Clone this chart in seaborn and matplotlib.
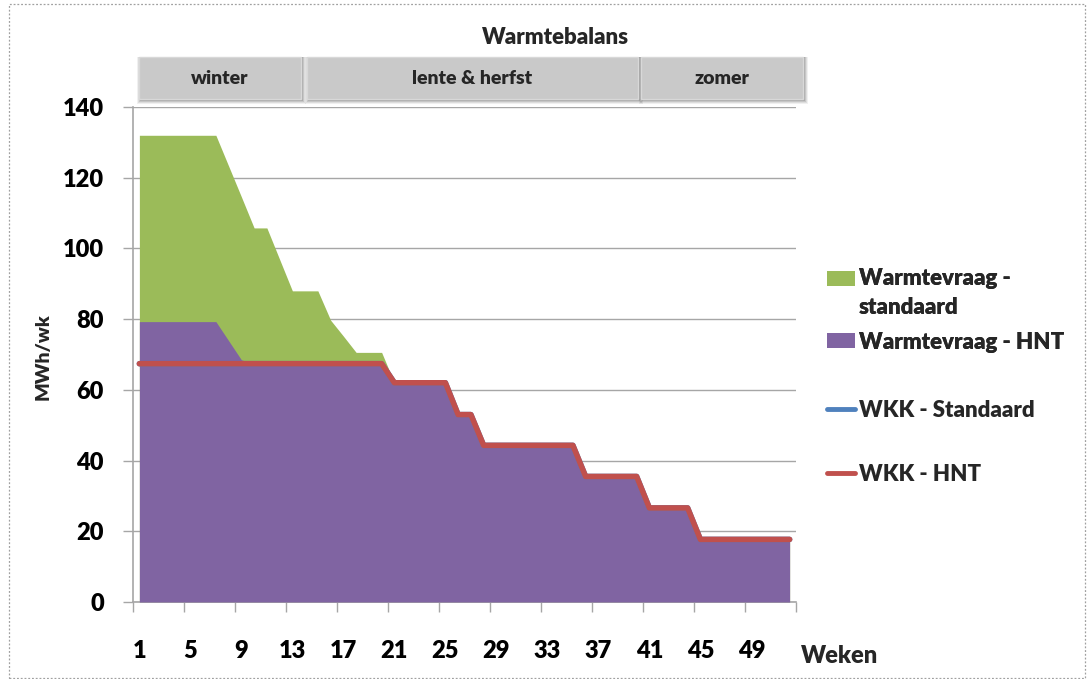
import matplotlib
matplotlib.use("Agg")
import matplotlib.pyplot as plt
import seaborn as sns
import pandas as pd
import numpy as np
from matplotlib.patches import Rectangle, Patch
from matplotlib.lines import Line2D
from matplotlib.legend_handler import HandlerPatch

# ---------------- data ----------------
weeks = list(range(1, 53))

warmtevraag_standaard = [132.0, 132.0, 132.0, 132.0, 132.0, 132.0, 132.0,
                         123.3, 114.6, 105.8, 105.8, 96.9, 88.0, 88.0, 88.0,
                         79.7, 75.2, 70.6, 70.6, 70.6,
                         62.0, 62.0, 62.0, 62.0, 62.0, 53.0, 53.0,
                         44.3, 44.3, 44.3, 44.3, 44.3, 44.3, 44.3, 44.3,
                         35.5, 35.5, 35.5, 35.5, 35.5,
                         26.6, 26.6, 26.6, 26.6,
                         17.7, 17.7, 17.7, 17.7, 17.7, 17.7, 17.7, 17.7]

warmtevraag_hnt = [79.3, 79.3, 79.3, 79.3, 79.3, 79.3, 79.3,
                   73.9, 68.5, 67.4, 67.4, 67.4, 67.4, 67.4, 67.4,
                   67.4, 67.4, 67.4, 67.4, 67.4,
                   62.0, 62.0, 62.0, 62.0, 62.0, 53.0, 53.0,
                   44.3, 44.3, 44.3, 44.3, 44.3, 44.3, 44.3, 44.3,
                   35.5, 35.5, 35.5, 35.5, 35.5,
                   26.6, 26.6, 26.6, 26.6,
                   17.7, 17.7, 17.7, 17.7, 17.7, 17.7, 17.7, 17.7]

wkk_standaard = [67.4, 67.4, 67.4, 67.4, 67.4, 67.4, 67.4,
                 67.4, 67.4, 67.4, 67.4, 67.4, 67.4, 67.4, 67.4,
                 67.4, 67.4, 67.4, 67.4, 67.4,
                 62.0, 62.0, 62.0, 62.0, 62.0, 53.0, 53.0,
                 44.3, 44.3, 44.3, 44.3, 44.3, 44.3, 44.3, 44.3,
                 35.5, 35.5, 35.5, 35.5, 35.5,
                 26.6, 26.6, 26.6, 26.6,
                 17.7, 17.7, 17.7, 17.7, 17.7, 17.7, 17.7, 17.7]

wkk_hnt = [67.4, 67.4, 67.4, 67.4, 67.4, 67.4, 67.4,
           67.4, 67.4, 67.4, 67.4, 67.4, 67.4, 67.4, 67.4,
           67.4, 67.4, 67.4, 67.4, 67.4,
           62.0, 62.0, 62.0, 62.0, 62.0, 53.0, 53.0,
           44.3, 44.3, 44.3, 44.3, 44.3, 44.3, 44.3, 44.3,
           35.5, 35.5, 35.5, 35.5, 35.5,
           26.6, 26.6, 26.6, 26.6,
           17.7, 17.7, 17.7, 17.7, 17.7, 17.7, 17.7, 17.7]

x_tick_labels = ["1", "5", "9", "13", "17", "21", "25", "29", "33", "37", "41", "45", "49"]
y_ticks = [0, 20, 40, 60, 80, 100, 120, 140]

seizoenen = ["winter", "lente & herfst", "zomer"]

series_labels = ["Warmtevraag -\nstandaard", "Warmtevraag - HNT", "WKK - Standaard", "WKK - HNT"]

# ---------------- style ----------------
GREEN = "#9BBB59"
PURPLE = "#8064A2"
BLUE = "#4F81BD"
RED = "#C0504D"
GRID = "#A6A6A6"
WEIGHT = "heavy"

sns.set_theme(style="white")
plt.rcParams["font.family"] = ["Lato", "DejaVu Sans"]
plt.rcParams["font.weight"] = WEIGHT

W, H = 1088, 679
fig = plt.figure(figsize=(W / 100, H / 100), dpi=100)
fig.patch.set_facecolor("white")

def fx(px):
    return px / W

def fy(py):
    return 1 - py / H

ax = fig.add_axes([fx(133), fy(602), fx(796) - fx(133), fy(107) - fy(602)])

df = pd.DataFrame({"week": weeks,
                   "std": warmtevraag_standaard,
                   "hnt": warmtevraag_hnt,
                   "wkk_std": wkk_standaard,
                   "wkk_hnt": wkk_hnt})

ax.fill_between(df["week"], df["std"], color=GREEN, lw=0, zorder=2)
ax.fill_between(df["week"], df["hnt"], color=PURPLE, lw=0, zorder=3)
sns.lineplot(data=df, x="week", y="wkk_std", color=BLUE, lw=4, ax=ax, zorder=4,
             solid_capstyle="round", solid_joinstyle="round")
sns.lineplot(data=df, x="week", y="wkk_hnt", color=RED, lw=4, ax=ax, zorder=5,
             solid_capstyle="round", solid_joinstyle="round")

ax.set_xlim(0.5, 52.5)
ax.set_ylim(0, 140)
ax.set_xlabel("")
ax.set_ylabel("")

ax.set_yticks(y_ticks)
ax.set_yticklabels([str(v) for v in y_ticks], fontsize=17, fontweight=WEIGHT)
ax.yaxis.grid(True, color=GRID, lw=1.0)
ax.xaxis.grid(False)
ax.set_axisbelow(True)

ax.set_xticks(np.arange(0.5, 53, 4))
ax.set_xticklabels([])
ax.set_xticks([int(t) for t in x_tick_labels], minor=True)
ax.set_xticklabels(x_tick_labels, minor=True, fontsize=17, fontweight=WEIGHT)

ax.tick_params(axis="x", which="major", bottom=True, length=7, width=1, color=GRID, direction="out")
ax.tick_params(axis="x", which="minor", bottom=True, length=0, pad=27, labelcolor="black")
ax.tick_params(axis="y", which="major", left=True, length=7, width=1, color=GRID, direction="out",
               pad=14, labelcolor="black")

for s in ["top", "right"]:
    ax.spines[s].set_visible(False)
for s in ["left", "bottom"]:
    ax.spines[s].set_color(GRID)
    ax.spines[s].set_linewidth(1.2)

# axis titles
fig.text(fx(43), fy(357), "MWh/wk", rotation=90, ha="center", va="center",
         fontsize=14, fontweight=WEIGHT)
fig.text(fx(840), fy(656), "Weken", ha="center", va="center",
         fontsize=17, fontweight=WEIGHT)
fig.text(fx(556), fy(38), "Warmtebalans", ha="center", va="center",
         fontsize=16, fontweight=WEIGHT)

# season boxes
boxes = [(139, 301), (307, 638), (641, 803)]
for (x0, x1), name in zip(boxes, seizoenen):
    y0, y1 = 57, 99
    for k, a in zip([5, 4, 3, 2], [0.06, 0.08, 0.10, 0.14]):
        fig.patches.append(Rectangle((fx(x0 - k + 3), fy(y1 + k)), fx(x1 - x0 + 2 * k - 3), fy(y0) - fy(y1 + k),
                                     transform=fig.transFigure, facecolor="black", alpha=a, lw=0, zorder=1))
    fig.patches.append(Rectangle((fx(x0), fy(y1)), fx(x1 - x0), fy(y0) - fy(y1),
                                 transform=fig.transFigure, facecolor="#C9C9C9", edgecolor="#D8D8D8",
                                 lw=1, zorder=2))
    fig.text(fx((x0 + x1) / 2), fy(78), name, ha="center", va="center",
             fontsize=14, fontweight=WEIGHT, zorder=3)


class TopPatchHandler(HandlerPatch):
    """Legend patch aligned with the first line of a multi-line label."""
    def __init__(self, shift=0.0, **kw):
        super().__init__(**kw)
        self.shift = shift

    def create_artists(self, legend, orig_handle, xdescent, ydescent, width, height, fontsize, trans):
        p = Rectangle((-xdescent, -ydescent + self.shift * fontsize), width, height,
                      facecolor=orig_handle.get_facecolor(), edgecolor="none", transform=trans)
        return [p]


# legends
green_patch = Patch(facecolor=GREEN, edgecolor="none")
purple_patch = Patch(facecolor=PURPLE, edgecolor="none")
leg1 = fig.legend([green_patch, purple_patch], series_labels[:2], loc="upper left",
                  bbox_to_anchor=(fx(818), fy(259)), frameon=False,
                  prop={"size": 16, "weight": WEIGHT}, handlelength=1.25, handleheight=0.65,
                  handletextpad=0.2, labelspacing=0.6, borderaxespad=0,
                  handler_map={green_patch: TopPatchHandler(shift=0.7),
                               purple_patch: TopPatchHandler(shift=0.0)})
for t in leg1.get_texts():
    t.set_linespacing(1.5)
fig.add_artist(leg1)

line_handles = [Line2D([], [], color=BLUE, lw=3.5, solid_capstyle="round"),
                Line2D([], [], color=RED, lw=3.5, solid_capstyle="round")]
leg2 = fig.legend(line_handles, series_labels[2:], loc="upper left",
                  bbox_to_anchor=(fx(818), fy(391)), frameon=False,
                  prop={"size": 16, "weight": WEIGHT}, handlelength=1.25,
                  handletextpad=0.2, labelspacing=1.95, borderaxespad=0)

# outer dotted border
fig.patches.append(Rectangle((fx(9), fy(678)), fx(1085 - 9), fy(4) - fy(678),
                             transform=fig.transFigure, fill=False, edgecolor="#A0A0A0",
                             lw=0.9, ls=(0, (1.5, 1.5)), zorder=0))

fig.savefig("out.png", dpi=100)
